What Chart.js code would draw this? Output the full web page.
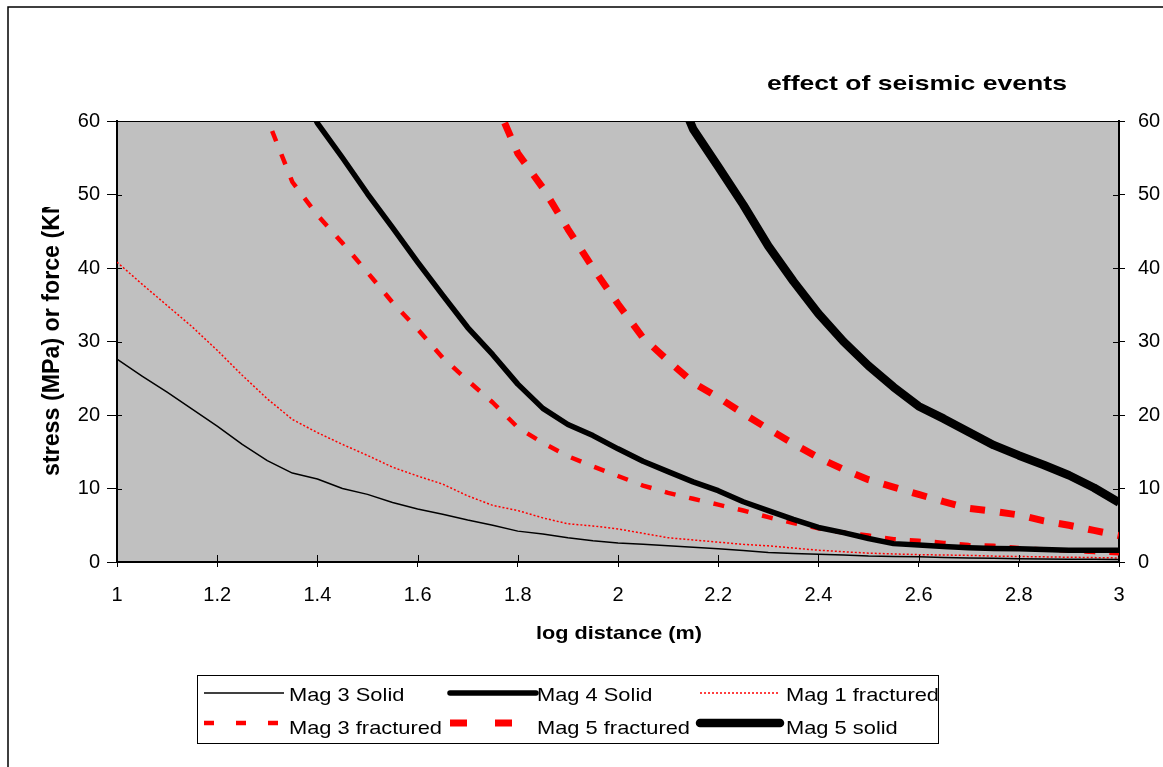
<!DOCTYPE html>
<html>
<head>
<meta charset="utf-8">
<title>effect of seismic events</title>
<script src="https://cdn.jsdelivr.net/npm/chart.js@4.4.1/dist/chart.umd.min.js"></script>
<style>
  html, body { margin: 0; padding: 0; background: #fff; }
  canvas { display: block; }
</style>
</head>
<body>
<canvas id="seismicChart" width="1163" height="767"></canvas>
<script>
// log10 of distance (m), shared by every series
const logDistance = [
  1.00, 1.05, 1.10, 1.15, 1.20, 1.25, 1.30, 1.35, 1.40, 1.45,
  1.50, 1.55, 1.60, 1.65, 1.70, 1.75, 1.80, 1.85, 1.90, 1.95,
  2.00, 2.05, 2.10, 2.15, 2.20, 2.25, 2.30, 2.35, 2.40, 2.45,
  2.50, 2.55, 2.60, 2.65, 2.70, 2.75, 2.80, 2.85, 2.90, 2.95, 3.00
];

// stress (MPa) / force (KN); null = off the top of the chart
const mag3Solid = [
  27.6, 25.3, 23.1, 20.8, 18.5, 16.0, 13.8, 12.1, 11.3, 10.0,
  9.2, 8.1, 7.2, 6.5, 5.7, 5.0, 4.2, 3.8, 3.3, 2.9,
  2.6, 2.4, 2.2, 2.0, 1.8, 1.55, 1.3, 1.15, 1.05, 0.95,
  0.8, 0.75, 0.7, 0.6, 0.55, 0.5, 0.45, 0.4, 0.38, 0.36, 0.35
];
const mag4Solid = [
  null, null, null, null, null, null, null, 67.0, 59.7, 55.0,
  50.1, 45.5, 40.8, 36.3, 31.9, 28.2, 24.2, 20.9, 18.7, 17.2,
  15.4, 13.7, 12.3, 10.9, 9.7, 8.2, 7.0, 5.8, 4.7, 4.0,
  3.2, 2.5, 2.3, 2.1, 1.95, 1.85, 1.8, 1.7, 1.6, 1.6, 1.6
];
const mag1Fractured = [
  40.8, 37.8, 34.9, 32.0, 28.8, 25.4, 22.2, 19.4, 17.6, 16.0,
  14.5, 12.9, 11.7, 10.6, 9.0, 7.7, 7.0, 6.0, 5.2, 4.9,
  4.5, 3.9, 3.3, 3.0, 2.7, 2.4, 2.2, 1.9, 1.6, 1.4,
  1.2, 1.1, 1.0, 0.95, 0.9, 0.8, 0.75, 0.7, 0.65, 0.6, 0.55
];
const mag3Fractured = [
  null, null, null, null, null, 68.0, 60.3, 51.7, 47.2, 43.4,
  39.4, 35.3, 31.7, 27.8, 24.7, 21.7, 18.3, 16.2, 14.4, 13.0,
  11.7, 10.4, 9.4, 8.6, 7.8, 7.0, 6.1, 5.3, 4.6, 4.0,
  3.6, 3.1, 2.9, 2.6, 2.3, 2.2, 1.9, 1.7, 1.55, 1.35, 1.2
];
const mag5Fractured = [
  null, null, null, null, null, null, null, null, null, null,
  null, null, null, null, null, 63.5, 55.6, 50.9, 45.3, 40.0,
  35.1, 30.5, 27.4, 24.4, 22.4, 20.2, 18.1, 16.1, 14.2, 12.6,
  11.2, 10.2, 9.2, 8.2, 7.3, 6.9, 6.4, 5.6, 5.0, 4.3, 3.6
];
const mag5Solid = [
  null, null, null, null, null, null, null, null, null, null,
  null, null, null, null, null, null, null, null, null, null,
  null, null, 67.0, 58.9, 53.8, 48.6, 43.0, 38.2, 33.8, 30.0,
  26.7, 23.8, 21.2, 19.5, 17.7, 15.9, 14.5, 13.2, 11.8, 10.1, 8.1
];

const yTicks = [0, 10, 20, 30, 40, 50, 60];
const xTickStep = 0.2;

const FONT = "'Liberation Sans', Arial, sans-serif";
const RED = '#ff0000';

function makeSeries(label, values, style) {
  const points = logDistance
    .map((x, i) => ({ x: x, y: values[i] }))
    .filter(p => p.y !== null);
  return Object.assign({
    label: label,
    data: points,
    fill: false,
    tension: 0,
    pointRadius: 0,
    pointHoverRadius: 0,
    borderCapStyle: 'butt',
    borderJoinStyle: 'round',
    clip: 0
  }, style);
}

// text squeezed/stretched horizontally to a given width
function drawFitted(ctx, text, left, baseline, width, font) {
  ctx.font = font;
  const w = ctx.measureText(text).width;
  ctx.save();
  ctx.translate(left, baseline);
  ctx.scale(width / w, 1);
  ctx.textAlign = 'left';
  ctx.textBaseline = 'alphabetic';
  ctx.fillText(text, 0, 0);
  ctx.restore();
}

const plotDecor = {
  id: 'plotDecor',
  beforeDraw(chart) {
    const { ctx, chartArea: a } = chart;
    ctx.save();
    ctx.fillStyle = '#ffffff';
    ctx.fillRect(0, 0, chart.width, chart.height);
    // outer frame of the chart object
    ctx.strokeStyle = '#000';
    ctx.lineWidth = 1.5;
    ctx.strokeRect(8, 7, chart.width + 40, chart.height + 40);
    // grey plot area
    ctx.fillStyle = '#c0c0c0';
    ctx.fillRect(a.left, a.top, a.right - a.left, a.bottom - a.top);
    ctx.restore();
  },
  afterDraw(chart) {
    const { ctx, chartArea: a } = chart;
    const sx = chart.scales.x, sy = chart.scales.y, sy2 = chart.scales.y2;
    ctx.save();

    // top edge of the plot area
    ctx.strokeStyle = '#000';
    ctx.lineWidth = 1;
    ctx.beginPath();
    ctx.moveTo(a.left, Math.round(a.top) + 0.5);
    ctx.lineTo(a.right, Math.round(a.top) + 0.5);
    ctx.stroke();

    // tick marks cross the axes, so add the inner halves
    ctx.beginPath();
    sy.ticks.forEach(t => {
      const py = Math.round(sy.getPixelForValue(t.value)) + 0.5;
      ctx.moveTo(a.left, py); ctx.lineTo(a.left + 5, py);
    });
    sy2.ticks.forEach(t => {
      const py = Math.round(sy2.getPixelForValue(t.value)) + 0.5;
      ctx.moveTo(a.right - 6, py); ctx.lineTo(a.right, py);
    });
    sx.ticks.forEach(t => {
      const px = Math.round(sx.getPixelForValue(t.value)) + 0.5;
      ctx.moveTo(px, a.bottom - 7); ctx.lineTo(px, a.bottom);
    });
    ctx.stroke();

    ctx.fillStyle = '#000';
    // chart title
    drawFitted(ctx, 'effect of seismic events', 767, 90, 300, 'bold 21px ' + FONT);
    // x axis title
    drawFitted(ctx, 'log distance (m)', 536, 639, 166, 'bold 19px ' + FONT);

    // y axis title, cut off at the top like the original box
    ctx.save();
    ctx.beginPath();
    ctx.rect(0, 207, 115, 400);
    ctx.clip();
    ctx.translate(59, 476);
    ctx.rotate(-Math.PI / 2);
    ctx.font = 'bold 21px ' + FONT;
    const vis = ctx.measureText('stress (MPa) or force (K').width;
    ctx.scale(262 / vis, 1.1);
    ctx.textAlign = 'left';
    ctx.textBaseline = 'alphabetic';
    ctx.fillText('stress (MPa) or force (KN)', 0, 0);
    ctx.restore();

    // legend box: two rows of three entries
    const box = { left: 197.5, top: 675.5, width: 741, height: 68 };
    ctx.fillStyle = '#ffffff';
    ctx.fillRect(box.left, box.top, box.width, box.height);
    ctx.strokeStyle = '#000';
    ctx.lineWidth = 1;
    ctx.strokeRect(box.left, box.top, box.width, box.height);

    const cols = [
      { x0: 204, x1: 284, tx: 289 },
      { x0: 450, x1: 536, tx: 537 },
      { x0: 700, x1: 780, tx: 786 }
    ];
    const rows = [{ line: 693, base: 701 }, { line: 723, base: 734 }];
    chart.data.datasets.forEach((ds, i) => {
      const c = cols[i % 3], r = rows[Math.floor(i / 3)];
      ctx.save();
      ctx.strokeStyle = ds.borderColor;
      ctx.lineWidth = ds.borderWidth;
      ctx.setLineDash(ds.legendDash || ds.borderDash || []);
      ctx.lineCap = ds.borderWidth > 4 && !ds.borderDash ? 'round' : 'butt';
      ctx.beginPath();
      ctx.moveTo(c.x0, r.line);
      ctx.lineTo(c.x1, r.line);
      ctx.stroke();
      ctx.restore();
      ctx.fillStyle = '#000';
      ctx.font = '19px ' + FONT;
      const w = ctx.measureText(ds.label).width;
      drawFitted(ctx, ds.label, c.tx, r.base, w * 1.15, '19px ' + FONT);
    });

    ctx.restore();
  }
};

const tickFont = { family: FONT, size: 20 };

const seismicChart = new Chart(document.getElementById('seismicChart'), {
  type: 'line',
  data: {
    datasets: [
      makeSeries('Mag 3 Solid', mag3Solid, { borderColor: '#000', borderWidth: 1.5 }),
      makeSeries('Mag 4 Solid', mag4Solid, { borderColor: '#000', borderWidth: 5.5 }),
      makeSeries('Mag 1 fractured', mag1Fractured, { borderColor: RED, borderWidth: 1.5, borderDash: [2, 2] }),
      makeSeries('Mag 3 fractured', mag3Fractured, { borderColor: RED, borderWidth: 4.5, borderDash: [11, 14], legendDash: [10, 22] }),
      makeSeries('Mag 5 fractured', mag5Fractured, { borderColor: RED, borderWidth: 7, borderDash: [15, 15], legendDash: [17, 28] }),
      makeSeries('Mag 5 solid', mag5Solid, { borderColor: '#000', borderWidth: 8.5 })
    ]
  },
  options: {
    responsive: false,
    maintainAspectRatio: false,
    animation: false,
    devicePixelRatio: 1,
    layout: { padding: { top: 121, left: 0, right: 0, bottom: 0 } },
    plugins: {
      legend: { display: false },
      title: { display: false },
      tooltip: { enabled: false }
    },
    scales: {
      x: {
        type: 'linear',
        min: logDistance[0],
        max: logDistance[logDistance.length - 1],
        z: 1,
        afterFit: s => { s.height = 205; },
        ticks: {
          stepSize: xTickStep,
          autoSkip: false,
          maxRotation: 0,
          color: '#000',
          font: tickFont,
          padding: 16,
          callback: v => String(Number(v.toFixed(1)))
        },
        grid: { drawOnChartArea: false, drawTicks: true, tickLength: 5, color: '#000', lineWidth: 1 },
        border: { display: true, color: '#000', width: 2 }
      },
      y: {
        type: 'linear',
        position: 'left',
        min: yTicks[0],
        max: yTicks[yTicks.length - 1],
        z: 1,
        afterFit: s => { s.width = 117; },
        afterBuildTicks: s => { s.ticks = yTicks.map(v => ({ value: v })); },
        ticks: { color: '#000', font: tickFont, padding: 7 },
        grid: { drawOnChartArea: false, drawTicks: true, tickLength: 10, color: '#000', lineWidth: 1 },
        border: { display: true, color: '#000', width: 2 }
      },
      y2: {
        type: 'linear',
        position: 'right',
        min: yTicks[0],
        max: yTicks[yTicks.length - 1],
        z: 1,
        afterFit: s => { s.width = 44; },
        afterBuildTicks: s => { s.ticks = yTicks.map(v => ({ value: v })); },
        ticks: { color: '#000', font: tickFont, padding: 13 },
        grid: { drawOnChartArea: false, drawTicks: true, tickLength: 6, color: '#000', lineWidth: 1 },
        border: { display: true, color: '#000', width: 2 }
      }
    }
  },
  plugins: [plotDecor]
});
</script>
</body>
</html>
